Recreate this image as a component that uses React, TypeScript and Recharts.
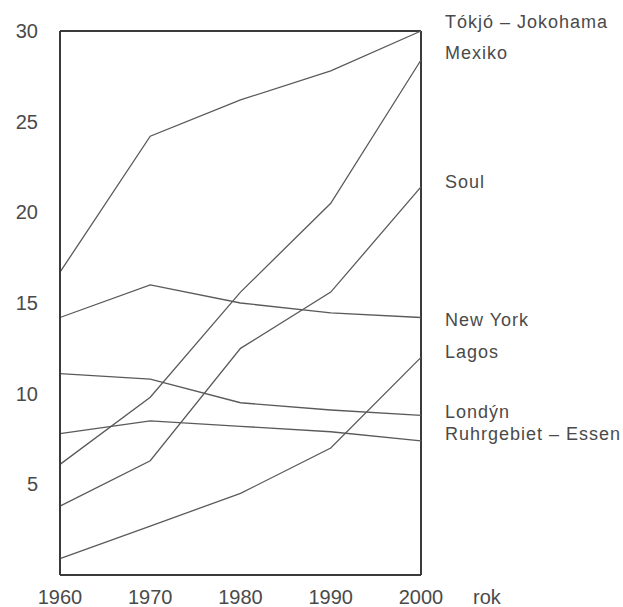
import React from 'react';
import { LineChart, Line, XAxis, YAxis, ReferenceLine } from 'recharts';

const years = [1960, 1970, 1980, 1990, 2000];
const tokyo = [16.7, 24.2, 26.2, 27.8, 30.0];
const mexico = [6.1, 9.8, 15.6, 20.5, 28.4];
const soul = [3.8, 6.3, 12.5, 15.6, 21.4];
const newYork = [14.2, 16.0, 15.0, 14.45, 14.2];
const lagos = [0.9, 2.7, 4.5, 7.0, 12.0];
const london = [11.1, 10.8, 9.5, 9.1, 8.8];
const ruhr = [7.8, 8.5, 8.2, 7.9, 7.4];
const yTicks = [5, 10, 15, 20, 25, 30];
const xTicks = [1960, 1970, 1980, 1990, 2000];

const seriesKeys = ['tokyo', 'mexico', 'soul', 'newYork', 'lagos', 'london', 'ruhr'];
const seriesNames = ['Tókjó – Jokohama', 'Mexiko', 'Soul', 'New York', 'Lagos', 'Londýn', 'Ruhrgebiet – Essen'];
const seriesValues = [tokyo, mexico, soul, newYork, lagos, london, ruhr];
const labelShift = [-9, -7, -5, 2, -5, -3, -7];

const data = years.map((year, i) => {
  const row: any = { year };
  seriesKeys.forEach((k, j) => {
    row[k] = seriesValues[j][i];
  });
  return row;
});

const textColor = '#4a4a4a';
const lineColor = '#5a5a5a';
const frameColor = '#3a3a3a';
const font = '"Liberation Sans", Arial, sans-serif';

const makeLabel = (name: string, shift: number) => (props: any) => {
  const { x, y, index } = props;
  if (index !== years.length - 1) return null;
  return (
    <text
      x={x + 24}
      y={y + shift}
      fill={textColor}
      fontSize={18}
      letterSpacing={1}
      fontFamily={font}
      dominantBaseline="central"
    >
      {name}
    </text>
  );
};

export default function App() {
  return (
    <div style={{ position: 'absolute', left: 0, top: 0, background: '#fff' }}>
      <LineChart
        width={623}
        height={607}
        data={data}
        margin={{ top: 31, right: 202, bottom: 0, left: 0 }}
      >
        <XAxis
          dataKey="year"
          type="number"
          domain={[1960, 2000]}
          ticks={xTicks}
          height={32}
          tickSize={0}
          tickMargin={15}
          tickLine={false}
          axisLine={{ stroke: frameColor, strokeWidth: 2 }}
          tick={{ fill: textColor, fontSize: 20, fontFamily: font }}
          label={(props: any) => {
            const vb = props.viewBox;
            return (
              <text
                x={vb.x + vb.width + 52}
                y={vb.y + 15}
                dy="0.71em"
                fill={textColor}
                fontSize={20}
                fontFamily={font}
              >
                rok
              </text>
            );
          }}
        />
        <YAxis
          type="number"
          domain={[0, 30]}
          ticks={yTicks}
          width={60}
          tickSize={0}
          tickMargin={22}
          tickLine={false}
          axisLine={{ stroke: frameColor, strokeWidth: 2 }}
          tick={{ fill: textColor, fontSize: 20, fontFamily: font }}
        />
        <ReferenceLine y={30} stroke={frameColor} strokeWidth={2} ifOverflow="extendDomain" />
        <ReferenceLine x={2000} stroke={frameColor} strokeWidth={2} ifOverflow="extendDomain" />
        {seriesKeys.map((k, j) => (
          <Line
            key={k}
            dataKey={k}
            name={seriesNames[j]}
            stroke={lineColor}
            strokeWidth={1.3}
            dot={false}
            activeDot={false}
            isAnimationActive={false}
            label={makeLabel(seriesNames[j], labelShift[j])}
          />
        ))}
      </LineChart>
    </div>
  );
}
